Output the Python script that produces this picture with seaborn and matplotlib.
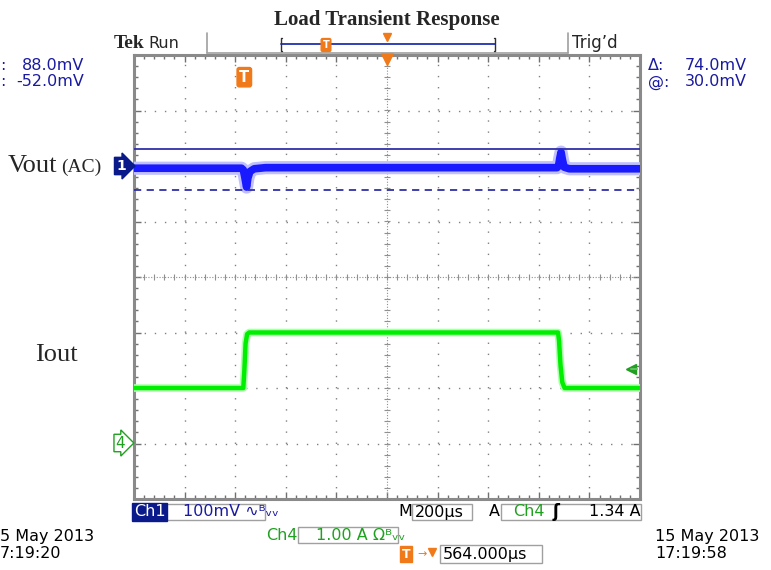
import numpy as np
import pandas as pd
import matplotlib
matplotlib.use("Agg")
import matplotlib.pyplot as plt
import seaborn as sns

# ---------------- data ----------------
title = "Load Transient Response"
# Ch1 : Vout (AC coupled), 100 mV/div, time in microseconds
vout_t = [0, 425, 432, 438, 445, 450, 458, 475, 520, 1672, 1678, 1683, 1688, 1693, 1700, 1720, 2000]
vout_mv = [-4, -4, -7, -20, -38, -22, -10, -5, -3, -3, 0, 14, 25, 12, -2, -5, -5]
# Ch4 : Iout, 1.00 A/div
iout_t = [0, 432, 436, 441, 447, 455, 1676, 1680, 1686, 1693, 1702, 2000]
iout_a = [1.0, 1.0, 1.3, 1.8, 1.97, 2.0, 2.0, 1.85, 1.4, 1.1, 1.0, 1.0]
cursor_a_mv = 30.0     # solid cursor
cursor_b_mv = -44.0    # dashed cursor
trig_level_a = 1.34
trig_time_us = 436.0
ch1_scale_mv = 100.0
ch4_scale_a = 1.0
time_div_us = 200.0
ch1_offset_div = 2.0
ch4_offset_div = -3.0

W, H = 771, 570
fig = plt.figure(figsize=(W / 100, H / 100), dpi=100)
sns.set_style("white")
plt.rcParams["font.family"] = ["DejaVu Sans"]
FS = 11.5


def fx(x):
    return x / W


def fy(y):
    return 1 - y / H


L, T, R, B = 134, 55, 640, 499
ax = fig.add_axes([fx(L), fy(B), (R - L) / W, (B - T) / H])
ax.set_xlim(0, 10)
ax.set_ylim(-4, 4)

# graticule
for i in range(1, 10):
    if i == 5:
        continue
    ax.axvline(i, color="#808080", lw=1.0, ls=(0, (1, 7.0)), zorder=1)
for j in range(-3, 4):
    if j == 0:
        continue
    ax.axhline(j, color="#808080", lw=1.0, ls=(0, (1, 6.3)), zorder=1)
ax.axhline(0, color="#909090", lw=0.8, ls=(0, (1, 1.5)), zorder=1)
ax.axvline(5, color="#909090", lw=0.8, ls=(0, (1, 1.5)), zorder=1)
ax.scatter(np.arange(0, 10.01, 0.2), np.zeros(51), marker="|", s=25, color="#909090", lw=0.8, zorder=1)
ax.scatter(np.full(41, 5.0), np.arange(-4, 4.01, 0.2), marker="_", s=25, color="#909090", lw=0.8, zorder=1)

ax.set_xticks(np.arange(0, 11, 1))
ax.set_xticks(np.arange(0, 10.01, 0.2), minor=True)
ax.set_yticks(np.arange(-4, 5, 1))
ax.set_yticks(np.arange(-4, 4.01, 0.2), minor=True)
ax.set_xticklabels([])
ax.set_yticklabels([])
ax.tick_params(which="major", direction="in", length=5, width=1, color="#707070",
               top=True, right=True, bottom=True, left=True)
ax.tick_params(which="minor", direction="in", length=3, width=1, color="#707070",
               top=True, right=True, bottom=True, left=True)
for s in ax.spines.values():
    s.set_color("#8a8a8a")
    s.set_linewidth(2.2)

# traces
dv = pd.DataFrame({"x": np.array(vout_t) / time_div_us,
                   "y": ch1_offset_div + np.array(vout_mv) / ch1_scale_mv})
di = pd.DataFrame({"x": np.array(iout_t) / time_div_us,
                   "y": ch4_offset_div + np.array(iout_a) / ch4_scale_a})

sns.lineplot(data=dv, x="x", y="y", ax=ax, color="#c0c0ff", lw=9.5, zorder=3, estimator=None, sort=False)
sns.lineplot(data=dv, x="x", y="y", ax=ax, color="#1a1aff", lw=5.5, zorder=4, estimator=None, sort=False)
sns.lineplot(data=di, x="x", y="y", ax=ax, color="#b0ffb0", lw=5.5, zorder=3, estimator=None, sort=False)
sns.lineplot(data=di, x="x", y="y", ax=ax, color="#00ee00", lw=3.2, zorder=4, estimator=None, sort=False)
ax.set_xlabel("")
ax.set_ylabel("")

# cursors
ax.axhline(ch1_offset_div + cursor_a_mv / ch1_scale_mv, color="#3030a8", lw=1.3, zorder=5)
ax.axhline(ch1_offset_div + cursor_b_mv / ch1_scale_mv, color="#3030a8", lw=1.3,
           ls=(0, (4, 3)), zorder=5)

# markers: trigger position, center, trigger level
orange = "#f07a1a"
ax.plot([5], [3.93], marker="v", ms=8, color=orange, clip_on=False, zorder=6)
ax.text(trig_time_us / time_div_us, 3.6, "T", color="white", fontsize=10.5, fontweight="bold",
        ha="center", va="center", zorder=7,
        bbox=dict(boxstyle="round,pad=0.15", fc=orange, ec=orange))
lvl = ch4_offset_div + trig_level_a / ch4_scale_a
ax.plot([9.82], [lvl], marker="<", ms=7, color="#20a020", zorder=6)
ax.plot([9.82, 9.95], [lvl, lvl], color="#60c060", lw=1.5, zorder=6)

# channel markers
fig.text(fx(121), fy(166), "1", color="white", fontsize=10, fontweight="bold", ha="center", va="center",
         bbox=dict(boxstyle="rarrow,pad=0.12", fc="#0a1a8a", ec="#0a1a8a"))
fig.text(fx(120), fy(443), "4", color="#20a020", fontsize=11, ha="center", va="center",
         bbox=dict(boxstyle="rarrow,pad=0.08", fc="white", ec="#20a020", lw=1))

# title and left labels
fig.text(fx(387), fy(20), title, ha="center", va="center", fontsize=15, fontweight="bold",
         family="Liberation Serif")
fig.text(fx(8), fy(166), "Vout", ha="left", va="center", fontsize=19, family="Liberation Serif")
fig.text(fx(61), fy(167), "(AC)", ha="left", va="center", fontsize=14, family="Liberation Serif")
fig.text(fx(35), fy(355), "Iout", ha="left", va="center", fontsize=19, family="Liberation Serif")

# status bar
fig.text(fx(114), fy(43), "Tek", ha="left", va="center", fontsize=14, fontweight="bold",
         family="Liberation Serif")
fig.text(fx(148), fy(43), "Run", ha="left", va="center", fontsize=FS)
fig.text(fx(572), fy(43), "Trig’d", ha="left", va="center", fontsize=FS + 0.5)
fig.add_artist(plt.Line2D([fx(207), fx(207)], [fy(33), fy(53)], color="#a0a0a0", lw=1.2))
fig.add_artist(plt.Line2D([fx(568), fx(568)], [fy(33), fy(53)], color="#a0a0a0", lw=1.2))
fig.add_artist(plt.Line2D([fx(207), fx(568)], [fy(53), fy(53)], color="#a0a0a0", lw=1.2))
# record bar
fig.add_artist(plt.Line2D([fx(281), fx(495)], [fy(44), fy(44)], color="#2030b0", lw=1.3))
fig.add_artist(plt.Line2D([fx(282), fx(281), fx(281), fx(282)], [fy(38), fy(38), fy(51), fy(51)],
                          color="#303030", lw=1))
fig.add_artist(plt.Line2D([fx(494), fx(495), fx(495), fx(494)], [fy(38), fy(38), fy(51), fy(51)],
                          color="#303030", lw=1))
fig.text(fx(326), fy(45), "T", color="white", fontsize=7, fontweight="bold", ha="center", va="center",
         bbox=dict(boxstyle="round,pad=0.15", fc=orange, ec=orange))
fig.add_artist(plt.Line2D([fx(387)], [fy(37)], marker="v", ms=6, color=orange))

# cursor readouts
blue_txt = "#1a1aa0"
fig.text(fx(0), fy(65), ":", color=blue_txt, fontsize=FS, ha="left", va="center")
fig.text(fx(0), fy(82), ":", color=blue_txt, fontsize=FS, ha="left", va="center")
fig.text(fx(84), fy(65), "88.0mV", color=blue_txt, fontsize=FS, ha="right", va="center")
fig.text(fx(84), fy(82), "-52.0mV", color=blue_txt, fontsize=FS, ha="right", va="center")
fig.text(fx(648), fy(65), "Δ:", color=blue_txt, fontsize=FS, ha="left", va="center")
fig.text(fx(648), fy(82), "@:", color=blue_txt, fontsize=FS, ha="left", va="center")
fig.text(fx(747), fy(65), "74.0mV", color=blue_txt, fontsize=FS, ha="right", va="center")
fig.text(fx(747), fy(82), "30.0mV", color=blue_txt, fontsize=FS, ha="right", va="center")

# bottom readouts
green_txt = "#20a020"
fig.text(fx(134), fy(512), "Ch1", color="white", fontsize=FS, ha="left", va="center",
         bbox=dict(boxstyle="square,pad=0.1", fc="#0a1a8a", ec="#0a1a8a"))
fig.add_artist(plt.Rectangle((fx(166), fy(520)), (265 - 166) / W, 16 / H, fill=False,
                             ec="#a0a0a0", lw=1))
fig.text(fx(183), fy(512), "100mV ∿ᴮᵥᵥ", color=blue_txt, fontsize=FS, ha="left", va="center")
fig.text(fx(398), fy(512), "M", color="black", fontsize=FS, ha="left", va="center")
fig.add_artist(plt.Rectangle((fx(412), fy(520)), (472 - 412) / W, 16 / H, fill=False,
                             ec="#a0a0a0", lw=1))
fig.text(fx(415), fy(512), "200µs", color="black", fontsize=FS, ha="left", va="center")
fig.text(fx(489), fy(512), "A", color="black", fontsize=FS, ha="left", va="center")
fig.add_artist(plt.Rectangle((fx(501), fy(520)), (641 - 501) / W, 16 / H, fill=False,
                             ec="#a0a0a0", lw=1))
fig.text(fx(513), fy(512), "Ch4", color=green_txt, fontsize=FS, ha="left", va="center")
fig.text(fx(553), fy(512), "ʃ", color="black", fontsize=12, ha="left", va="center", fontweight="bold")
fig.text(fx(641), fy(512), "1.34 A", color="black", fontsize=FS, ha="right", va="center")

fig.text(fx(266), fy(535), "Ch4", color=green_txt, fontsize=FS, ha="left", va="center")
fig.add_artist(plt.Rectangle((fx(298), fy(543)), (398 - 298) / W, 16 / H, fill=False,
                             ec="#a0a0a0", lw=1))
fig.text(fx(316), fy(535), "1.00 A Ωᴮᵥᵥ", color=green_txt, fontsize=FS, ha="left", va="center")

fig.text(fx(406), fy(554), "T", color="white", fontsize=9, fontweight="bold", ha="center", va="center",
         bbox=dict(boxstyle="square,pad=0.15", fc=orange, ec=orange))
fig.text(fx(422), fy(554), "→", color=orange, fontsize=8, ha="center", va="center")
fig.add_artist(plt.Line2D([fx(432)], [fy(552)], marker="v", ms=6, color=orange))
fig.add_artist(plt.Rectangle((fx(440), fy(563)), (542 - 440) / W, 18 / H, fill=False,
                             ec="#a0a0a0", lw=1))
fig.text(fx(443), fy(554), "564.000µs", color="black", fontsize=FS, ha="left", va="center")

fig.text(fx(0), fy(536), "5 May 2013", color="black", fontsize=FS, ha="left", va="center")
fig.text(fx(0), fy(554), "7:19:20", color="black", fontsize=FS, ha="left", va="center")
fig.text(fx(655), fy(536), "15 May 2013", color="black", fontsize=FS, ha="left", va="center")
fig.text(fx(655), fy(554), "17:19:58", color="black", fontsize=FS, ha="left", va="center")

fig.savefig("out.png", dpi=100)
